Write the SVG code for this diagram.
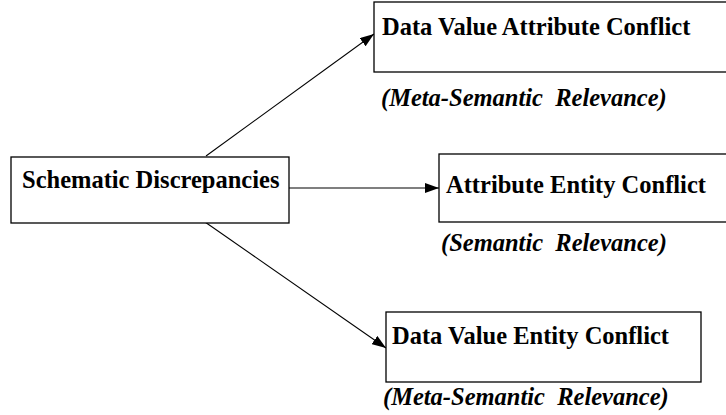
<svg xmlns="http://www.w3.org/2000/svg" width="726" height="415" viewBox="0 0 726 415">
<style>
.box{fill:#fff;stroke:#000;stroke-width:1.3}
.t{font-family:"Liberation Serif","Times New Roman",serif;font-weight:bold;font-size:24.5px;fill:#000}
.l{font-family:"Liberation Serif","Times New Roman",serif;font-weight:bold;font-style:italic;font-size:24.5px;fill:#000;white-space:pre}
.c{stroke:#000;stroke-width:1.1;fill:none;marker-end:url(#ah)}
</style>
<defs>
<marker id="ah" markerWidth="14" markerHeight="10" refX="14" refY="5" orient="auto" markerUnits="userSpaceOnUse">
<path d="M0,0 L14,5 L0,10 Z" fill="#000"/>
</marker>
</defs>
<g id="connectors">
<line class="c" x1="206" y1="156" x2="374" y2="34"/>
<line class="c" x1="289" y1="188" x2="439" y2="188"/>
<line class="c" x1="205" y1="222" x2="386" y2="348"/>
</g>
<g id="schematic">
<rect class="box" x="11" y="157" width="278" height="66"/>
<text class="t" x="22" y="188">Schematic Discrepancies</text>
</g>
<g id="dvac">
<rect class="box" x="374" y="2" width="360" height="70"/>
<text class="t" x="382" y="35">Data Value Attribute Conflict</text>
<text class="l" x="381" y="106" xml:space="preserve">(Meta-Semantic  Relevance)</text>
</g>
<g id="aec">
<rect class="box" x="439" y="154" width="300" height="68"/>
<text class="t" x="446" y="193">Attribute Entity Conflict</text>
<text class="l" x="441" y="251" xml:space="preserve">(Semantic  Relevance)</text>
</g>
<g id="dvec">
<rect class="box" x="386" y="312" width="315" height="70"/>
<text class="t" x="392" y="344">Data Value Entity Conflict</text>
<text class="l" x="383" y="405" xml:space="preserve">(Meta-Semantic  Relevance)</text>
</g>
</svg>
